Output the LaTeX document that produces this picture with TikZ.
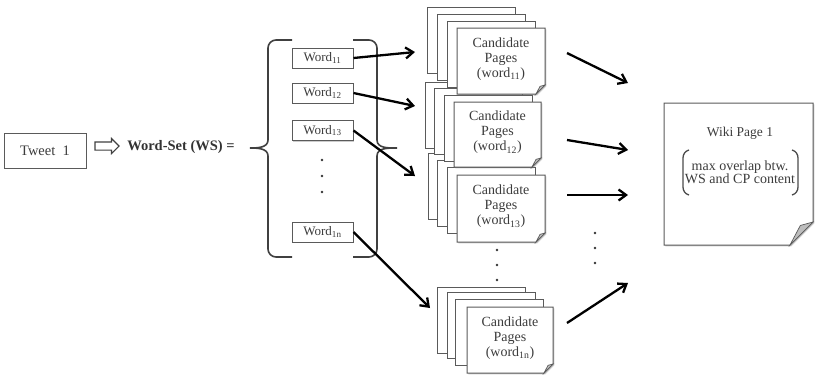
\documentclass[tikz,border=0pt]{standalone}
\usepackage{fontspec}
\setmainfont{Liberation Serif}
\usetikzlibrary{arrows.meta,shapes.arrows,shadows}
\definecolor{txt}{HTML}{3C3C3C}
\definecolor{edge}{HTML}{5A5A5A}
\definecolor{foldc}{HTML}{BDBDBD}
\tikzset{
  shad/.style={drop shadow={shadow xshift=1.3pt,shadow yshift=-1.3pt,opacity=0.4}},
  sheet/.style={draw=edge,fill=white,line width=1pt,shad},
  foldst/.style={draw=edge,fill=foldc,line width=0.7pt},
  wordbox/.style={draw=edge,fill=white,line width=1pt,minimum width=61pt,minimum height=20pt,inner sep=0pt,font=\fontsize{13}{14}\selectfont,text=txt,shad},
  pagetext/.style={align=center,font=\fontsize{14}{15}\selectfont,text=txt,inner sep=0pt},
  arr/.style={line width=2.3pt,-{Straight Barb[length=7.5pt,width=11pt]}},
  bracest/.style={draw=black!75,line width=1.6pt},
  dotst/.style={fill=black!80}
}
\newcommand\fpage[5]{%
  \filldraw[sheet] (#1,#2) -- (#3,#2) -- (#3,#4-#5) -- (#3-#5,#4) -- (#1,#4) -- cycle;
  \filldraw[foldst] (#3,#4-#5) -- (#3-#5,#4) -- (#3-0.55*#5,#4-0.85*#5) -- cycle;}
\newcommand\bpage[2]{\filldraw[sheet] (#1,#2) rectangle ++(88,66);}
\begin{document}
\begin{tikzpicture}[x=1pt,y=-1pt]
\useasboundingbox (0,0) rectangle (815,376);

% tweet and hollow arrow
\node[draw=edge,line width=1pt,minimum width=82pt,minimum height=35pt,inner sep=0pt,text=txt,font=\fontsize{14.5}{16}\selectfont,shad,fill=white] (tweet) at (45,150.5) {Tweet\ \ 1};
\node[single arrow,draw=black!75,line width=1.1pt,fill=white,minimum height=24pt,minimum width=15pt,inner sep=3.5pt,single arrow head extend=3.5pt] (harrow) at (105,146) {};
\node[font=\bfseries\fontsize{14.5}{16}\selectfont,text=black!80,inner sep=0pt] (ws) at (181,147) {Word-Set (WS) =};

% braces
\draw[bracest] (292,40) -- (276,40) to[out=180,in=90] (268,48) -- (268,140) to[out=-90,in=0] (250,148) to[out=0,in=90] (268,156) -- (268,249) to[out=-90,in=180] (276,257) -- (292,257);
\draw[bracest] (353,40) -- (369,40) to[out=0,in=90] (377,48) -- (377,140) to[out=-90,in=180] (397,148) to[out=180,in=90] (377,156) -- (377,249) to[out=-90,in=0] (369,257) -- (353,257);

% words
\node[wordbox] (w1) at (322.5,58) {Word\textsubscript{11}};
\node[wordbox] (w2) at (322.5,93) {Word\textsubscript{12}};
\node[wordbox] (w3) at (322.5,130.5) {Word\textsubscript{13}};
\node[wordbox] (wn) at (322.5,232) {Word\textsubscript{1n}};
\fill[dotst] (322,160) circle (1.4) (322,176) circle (1.4) (322,192) circle (1.4);

% stack 3
\bpage{428}{153}\bpage{437}{160}\bpage{447}{167}
\fpage{457}{175}{545}{242}{9}
\node[pagetext] (c3) at (501,206.5) {Candidate\\Pages\\(word\textsubscript{13})};
% stack 2
\bpage{425}{82}\bpage{434}{88}\bpage{444}{95}
\fpage{454}{102}{541}{167}{9}
\node[pagetext] (c2) at (497.5,132.5) {Candidate\\Pages\\(word\textsubscript{12})};
% stack 1
\bpage{427}{7}\bpage{437}{14}\bpage{447}{21}
\fpage{457}{28}{545}{94}{9}
\node[pagetext] (c1) at (501,59) {Candidate\\Pages\\(word\textsubscript{11})};
% stack n
\bpage{437}{287}\bpage{447}{292}\bpage{455}{299}
\fpage{467}{307}{553}{373}{9}
\node[pagetext] (cn) at (510,338) {Candidate\\Pages\\(word\textsubscript{1n})};
\fill[dotst] (497,250) circle (1.4) (497,265) circle (1.4) (497,280) circle (1.4);

% arrows words -> stacks
\coordinate (a1) at (415,52);
\coordinate (a2) at (415,106);
\coordinate (a3) at (415,176);
\coordinate (an) at (430,308);
\draw[arr] (w1.east) -- (a1);
\draw[arr] (w2.east) -- (a2);
\draw[arr] (w3.east) -- (a3);
\draw[arr] (wn.east) -- (an);

% wiki page
\fpage{664}{103}{813}{245}{23}
\node[pagetext,font=\fontsize{13.5}{15}\selectfont] (wiki) at (740,133) {Wiki Page 1};
\node[pagetext,font=\fontsize{14}{13}\selectfont] (ov) at (740,172.5) {max overlap btw.\\WS and CP content};
\draw[black!70,line width=1.3pt] (689,150) to[out=195,in=90] (683,158) -- (683,187) to[out=-90,in=165] (689,195);
\draw[black!70,line width=1.3pt] (792,150) to[out=-15,in=90] (798,158) -- (798,187) to[out=-90,in=15] (792,195);

% arrows stacks -> wiki
\coordinate (s1) at (567,53);  \coordinate (t1) at (628,83);
\coordinate (s2) at (567,140); \coordinate (t2) at (628,150);
\coordinate (s3) at (567,195); \coordinate (t3) at (628,195);
\coordinate (s4) at (567,323); \coordinate (t4) at (628,283);
\draw[arr] (s1) -- (t1);
\draw[arr] (s2) -- (t2);
\draw[arr] (s3) -- (t3);
\draw[arr] (s4) -- (t4);
\fill[dotst] (595,233) circle (1.4) (595,248) circle (1.4) (595,263) circle (1.4);
\end{tikzpicture}
\end{document}
